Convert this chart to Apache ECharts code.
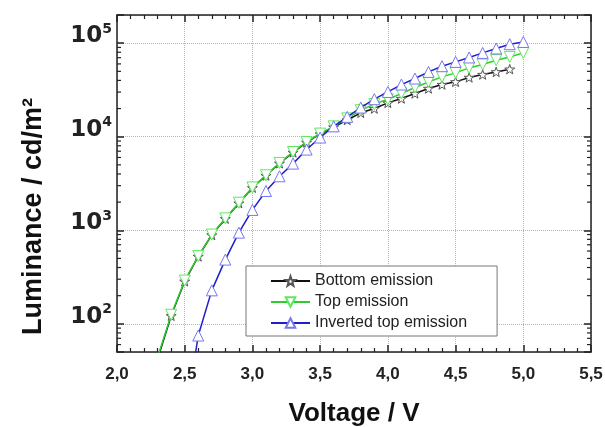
<!DOCTYPE html>
<html lang="en">
<head>
    <meta charset="UTF-8">
    <title>Luminance vs Voltage</title>
    <script type="text/javascript" src="https://cdn.jsdelivr.net/npm/echarts@6/dist/echarts.min.js"></script>
    <style>
        html, body { margin: 0; padding: 0; background: #fff; }
    </style>
</head>
<body>
    <div id="chart" style="width: 605px;height:427px;"></div>
    <script>
        // values (V, cd/m2)
        var bottomV = [2.3, 2.4, 2.5, 2.6, 2.7, 2.8, 2.9, 3.0, 3.1, 3.2, 3.3, 3.4, 3.5, 3.6, 3.7, 3.8, 3.9, 4.0, 4.1, 4.2, 4.3, 4.4, 4.5, 4.6, 4.7, 4.8, 4.9];
        var bottomL = [42, 122, 285, 525, 890, 1330, 1950, 2850, 3850, 5200, 6800, 8700, 10700, 12700, 15100, 18000, 20000, 23000, 25600, 29000, 32800, 36100, 38600, 43000, 46200, 49300, 52700];

        var topV = [2.3, 2.4, 2.5, 2.6, 2.7, 2.8, 2.9, 3.0, 3.1, 3.2, 3.3, 3.4, 3.5, 3.6, 3.7, 3.8, 3.9, 4.0, 4.1, 4.2, 4.3, 4.4, 4.5, 4.6, 4.7, 4.8, 4.9, 5.0];
        var topL = [44, 125, 290, 530, 900, 1340, 1970, 2870, 3870, 5250, 6870, 8790, 10800, 12900, 15700, 19200, 22300, 25100, 29000, 33600, 38500, 43600, 48100, 54400, 59100, 65800, 71300, 78700];

        var invV = [2.5, 2.6, 2.7, 2.8, 2.9, 3.0, 3.1, 3.2, 3.3, 3.4, 3.5, 3.6, 3.7, 3.8, 3.9, 4.0, 4.1, 4.2, 4.3, 4.4, 4.5, 4.6, 4.7, 4.8, 4.9, 5.0];
        var invL = [9, 75, 228, 486, 944, 1650, 2630, 3780, 5160, 7290, 9800, 12900, 16300, 20500, 25200, 30100, 36100, 41900, 49300, 56700, 63100, 70300, 78700, 87700, 97500, 103000];

        var seriesNames = ['Bottom emission', 'Top emission', 'Inverted top emission'];

        // minor ticks of the log axis (2..9 x 10^n)
        var yMinorTicks = [60, 70, 80, 90,
            200, 300, 400, 500, 600, 700, 800, 900,
            2000, 3000, 4000, 5000, 6000, 7000, 8000, 9000,
            20000, 30000, 40000, 50000, 60000, 70000, 80000, 90000];

        function pairs(xs, ys) {
            var out = [];
            for (var i = 0; i < xs.length; i++) out.push([xs[i], ys[i]]);
            return out;
        }

        var star = 'path://M0,-10 L2.35,-3.24 L9.51,-3.09 L3.8,1.24 L5.88,8.09 L0,4 L-5.88,8.09 L-3.8,1.24 L-9.51,-3.09 L-2.35,-3.24 Z';
        var font = 'Liberation Sans, Arial, sans-serif';
        var wideFont = 'DejaVu Sans, sans-serif';

        var chart = echarts.init(document.getElementById('chart'));

        var xBase = {
            type: 'value', min: 2, max: 5.5, interval: 0.5,
            axisLine: { show: true, onZero: false, lineStyle: { color: '#222', width: 1.5 } },
            axisTick: { show: true, inside: true, length: 7, lineStyle: { color: '#222', width: 1.5 } },
            minorTick: { show: true, splitNumber: 5, length: 4, lineStyle: { color: '#222', width: 1.2 } }
        };
        var yBase = {
            type: 'log', logBase: 10, min: 50, max: 200000,
            axisLine: { show: true, onZero: false, lineStyle: { color: '#222', width: 1.5 } },
            axisTick: { show: true, inside: true, length: 7, lineStyle: { color: '#222', width: 1.5 } },
            minorTick: { show: false }
        };

        var option = {
            animation: false,
            backgroundColor: '#fff',
            grid: { left: 117, right: 14, top: 15, bottom: 75, outerBoundsMode: 'none', containLabel: false },
            legend: {
                orient: 'vertical',
                left: 246, top: 266,
                padding: [7, 30, 5, 24],
                itemWidth: 39, itemHeight: 12, itemGap: 5,
                backgroundColor: '#fff',
                borderColor: '#777', borderWidth: 1,
                textStyle: { fontFamily: font, fontSize: 16, color: '#222' },
                data: seriesNames
            },
            xAxis: [
                Object.assign({}, xBase, {
                    position: 'bottom',
                    name: 'Voltage / V', nameLocation: 'middle', nameGap: 49,
                    nameTextStyle: { fontFamily: font, fontWeight: 'bold', fontSize: 26, color: '#111' },
                    axisLabel: {
                        margin: 14, fontFamily: font, fontWeight: 'bold', fontSize: 17, color: '#222',
                        formatter: function (v) { return v.toFixed(1).replace('.', ','); }
                    },
                    splitLine: { show: true, lineStyle: { color: '#b5b5b5', type: 'dotted', width: 1 } }
                }),
                Object.assign({}, xBase, {
                    position: 'top',
                    axisLabel: { show: false },
                    splitLine: { show: false }
                })
            ],
            yAxis: [
                Object.assign({}, yBase, {
                    position: 'left',
                    name: 'Luminance / cd/m²', nameLocation: 'middle', nameGap: 70,
                    nameTextStyle: { fontFamily: font, fontWeight: 'bold', fontSize: 27, color: '#111', padding: [0, 66, 0, 0] },
                    axisLabel: {
                        margin: 5,
                        padding: [0, 0, 14, 0],
                        formatter: function (v) {
                            var e = Math.log10(v);
                            var r = Math.round(e);
                            if (Math.abs(e - r) > 1e-6) return '';
                            return '{b|10}{s|' + r + '}';
                        },
                        rich: {
                            b: { fontFamily: wideFont, fontWeight: 'bold', fontSize: 23, lineHeight: 28, color: '#222' },
                            s: { fontFamily: wideFont, fontWeight: 'bold', fontSize: 14, lineHeight: 14, verticalAlign: 'top', color: '#222' }
                        }
                    },
                    splitLine: { show: true, lineStyle: { color: '#b5b5b5', type: 'dotted', width: 1 } }
                }),
                Object.assign({}, yBase, {
                    position: 'right',
                    axisLabel: { show: false },
                    splitLine: { show: false }
                })
            ],
            series: [
                {
                    name: seriesNames[0], type: 'line', xAxisIndex: 0, yAxisIndex: 0,
                    data: pairs(bottomV, bottomL),
                    symbol: star, symbolSize: 10, symbolKeepAspect: true,
                    lineStyle: { color: '#111', width: 1.5 },
                    itemStyle: { color: '#fff', borderColor: '#555', borderWidth: 1 },
                    z: 2
                },
                {
                    name: seriesNames[1], type: 'line', xAxisIndex: 0, yAxisIndex: 0,
                    data: pairs(topV, topL),
                    symbol: 'triangle', symbolRotate: 180, symbolSize: 11,
                    lineStyle: { color: '#2fcc2f', width: 1.5 },
                    itemStyle: { color: '#fff', borderColor: '#5fe85f', borderWidth: 1 },
                    z: 3
                },
                {
                    name: seriesNames[2], type: 'line', xAxisIndex: 0, yAxisIndex: 0,
                    data: pairs(invV, invL),
                    symbol: 'triangle', symbolSize: 11,
                    lineStyle: { color: '#1f1fc8', width: 1.5 },
                    itemStyle: { color: '#fff', borderColor: '#7878ee', borderWidth: 1 },
                    z: 4
                },
                {
                    // log-axis minor ticks, placed through the y scale on both frame sides
                    name: 'minor', type: 'custom', xAxisIndex: 0, yAxisIndex: 0,
                    silent: true, clip: false, z: 5,
                    data: yMinorTicks.map(function (v) { return [2, v]; }),
                    renderItem: function (params, api) {
                        var p = api.coord([2, api.value(1)]);
                        var cs = params.coordSys;
                        var x0 = cs.x, x1 = cs.x + cs.width;
                        var st = { stroke: '#222', lineWidth: 1.2 };
                        return {
                            type: 'group',
                            children: [
                                { type: 'line', shape: { x1: x0, y1: p[1], x2: x0 + 4, y2: p[1] }, style: st },
                                { type: 'line', shape: { x1: x1 - 4, y1: p[1], x2: x1, y2: p[1] }, style: st }
                            ]
                        };
                    }
                }
            ]
        };
        chart.setOption(option);
    </script>
</body>
</html>
